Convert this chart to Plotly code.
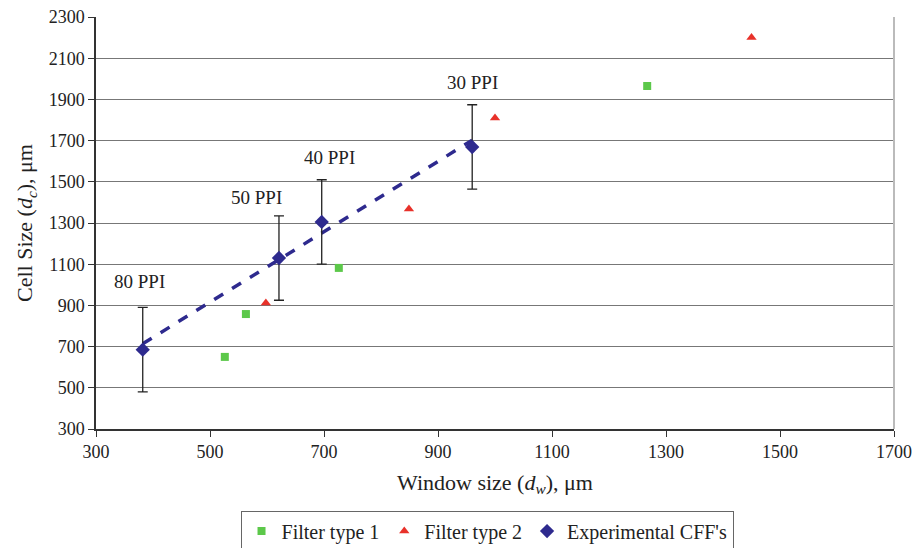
import numpy as np
import plotly.graph_objects as go

# Data
filter1_x = [526, 563, 726, 1267]
filter1_y = [650, 858, 1082, 1965]

filter2_x = [598, 849, 1000, 1450]
filter2_y = [912, 1368, 1810, 2200]

exp_x = [382, 621, 696, 960]
exp_y = [685, 1130, 1305, 1669]
exp_err = [205, 205, 205, 205]

ppi_labels = ["80 PPI", "50 PPI", "40 PPI", "30 PPI"]
ppi_x = [377, 581, 710, 960]
ppi_y = [1018, 1426, 1616, 1980]

x_ticks = [300, 500, 700, 900, 1100, 1300, 1500, 1700]
y_ticks = [300, 500, 700, 900, 1100, 1300, 1500, 1700, 1900, 2100, 2300]

# Linear trend line through experimental points
slope, intercept = np.polyfit(exp_x, exp_y, 1)
trend_x = [min(exp_x), max(exp_x)]
trend_y = [slope * v + intercept for v in trend_x]

NAVY = "#2E2A8E"
FONT = "Times New Roman, Liberation Serif, serif"

fig = go.Figure()

fig.add_trace(go.Scatter(
    x=trend_x, y=trend_y, mode="lines",
    line=dict(color=NAVY, width=3.5, dash="dash"),
    showlegend=False, hoverinfo="skip"))

fig.add_trace(go.Scatter(
    x=filter1_x, y=filter1_y, mode="markers", name="Filter type 1",
    marker=dict(symbol="square", size=8, color="#5CC84A")))

fig.add_trace(go.Scatter(
    x=filter2_x, y=filter2_y, mode="markers", name="Filter type 2",
    marker=dict(symbol="triangle-up", size=9, color="#E8312A")))

fig.add_trace(go.Scatter(
    x=exp_x, y=exp_y, mode="markers", name="Experimental CFF's",
    marker=dict(symbol="diamond", size=11, color=NAVY),
    error_y=dict(type="data", array=exp_err, visible=True,
                 color="#222222", thickness=1.3, width=5)))

for t, x, y in zip(ppi_labels, ppi_x, ppi_y):
    fig.add_annotation(x=x, y=y, text=t, showarrow=False,
                       font=dict(family=FONT, size=19, color="#222222"))

fig.update_layout(
    width=919, height=548,
    margin=dict(l=96, r=25, t=17, b=119, autoexpand=False),
    paper_bgcolor="white", plot_bgcolor="white",
    font=dict(family=FONT, size=18, color="#222222"),
    legend=dict(orientation="h", x=0.49, xanchor="center", y=-0.198, yanchor="top",
                bordercolor="#666666", borderwidth=1,
                font=dict(family=FONT, size=20, color="#222222"),
                itemwidth=30, tracegroupgap=0),
)

fig.update_xaxes(
    range=[300, 1700], tickvals=x_ticks, showgrid=False, zeroline=False,
    showline=True, linecolor="#333333", linewidth=1.5, mirror=False,
    ticks="outside", ticklen=6, tickcolor="#333333",
    tickfont=dict(family=FONT, size=18),
    title=dict(text="Window size (<i>d<sub>w</sub></i>), μm",
               font=dict(family=FONT, size=22), standoff=13))

fig.update_yaxes(
    range=[300, 2300], tickvals=y_ticks, showgrid=True, gridcolor="#777777",
    gridwidth=1.3, zeroline=False,
    showline=True, linecolor="#333333", linewidth=1.5,
    ticks="outside", ticklen=6, tickcolor="#333333",
    tickfont=dict(family=FONT, size=18),
    title=dict(text="Cell Size (<i>d<sub>c</sub></i>), μm",
               font=dict(family=FONT, size=22), standoff=10))

# right border
fig.add_shape(type="line", xref="paper", yref="paper", x0=1, x1=1, y0=0, y1=1,
              line=dict(color="#BBBBBB", width=2))

fig.write_html("out.html")
